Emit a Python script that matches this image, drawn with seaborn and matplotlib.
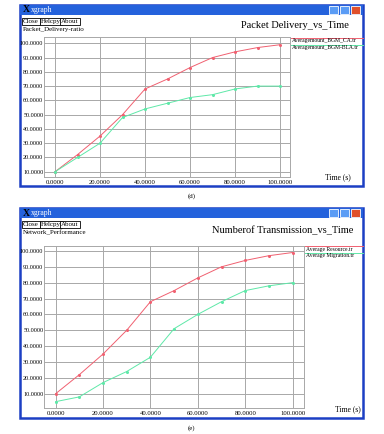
import matplotlib
matplotlib.use("Agg")
import matplotlib.pyplot as plt
import seaborn as sns
import pandas as pd
from matplotlib.patches import Rectangle
from matplotlib.lines import Line2D
from matplotlib.ticker import FormatStrFormatter

W, H = 384, 434

time_s = [0, 10, 20, 30, 40, 50, 60, 70, 80, 90, 100]
xticks = [0, 20, 40, 60, 80, 100]
yticks = [10, 20, 30, 40, 50, 60, 70, 80, 90, 100]

# (d) packet delivery
delivery_ca = [10, 22, 35, 50, 68, 75, 83, 90, 94, 97, 99]
delivery_bla = [10, 20, 30, 48, 54, 58, 62, 64, 68, 70, 70]
names_d = ["Averagemount_BGM_CA.tr", "Averagemount_BGM-BLA.tr"]

# (e) number of transmissions
resource = [10, 22, 35, 50, 68, 75, 83, 90, 94, 97, 99]
migration = [5, 8, 17, 24, 33, 51, 60, 68, 75, 78, 80]
names_e = ["Average Resource.tr", "Average Migration.tr"]

RED = "#f06070"
GREEN = "#5ee8a8"
SERIF = "Liberation Serif"


def fx(x):
    return x / W


def fy(y):
    return 1 - y / H


def long_df(a, b, names):
    return pd.DataFrame({
        "time": time_s * 2,
        "value": a + b,
        "series": [names[0]] * len(a) + [names[1]] * len(b),
    })


def window(fig, top, bottom, title_y, title, sub):
    left, right = 20, 363
    # window body
    fig.patches.append(Rectangle((fx(left), fy(bottom)), fx(right - left),
                                 (bottom - top) / H, transform=fig.transFigure,
                                 facecolor="white", edgecolor="#1c3fc4",
                                 linewidth=1.8, zorder=-2))
    # title bar
    fig.patches.append(Rectangle((fx(left), fy(top + 10)), fx(right - left),
                                 10 / H, transform=fig.transFigure,
                                 facecolor="#2462dc", edgecolor="none", zorder=-1))
    fig.text(fx(left + 3), fy(top + 5), "X", color="black", fontsize=7,
             family=SERIF, weight="bold", va="center", zorder=2)
    fig.text(fx(left + 11), fy(top + 5), "xgraph", color="white", fontsize=5.5,
             family=SERIF, va="center", zorder=2)
    for i, c in enumerate(["#5a9cf5", "#5a9cf5", "#e0502c"]):
        fig.patches.append(Rectangle((fx(329 + i * 11), fy(top + 9)), fx(9),
                                     8 / H, transform=fig.transFigure,
                                     facecolor=c, edgecolor="white",
                                     linewidth=0.6, zorder=2))
    # buttons
    bx = left + 2
    for lab, w in [("Close", 17), ("Helcpy", 19), ("About", 17)]:
        fig.text(fx(bx + 1), fy(top + 16.5), lab, fontsize=5, family=SERIF,
                 va="center", ha="left", zorder=3,
                 bbox=dict(boxstyle="square,pad=0.15", facecolor="white",
                           edgecolor="black", linewidth=0.6))
        bx += w + 1
    fig.text(fx(left + 3), fy(top + 25), sub, fontsize=5, family=SERIF,
             va="center", zorder=3)
    fig.text(fx(title[1]), fy(title_y), title[0], fontsize=7.5, family=SERIF,
             ha="center", va="center", zorder=3)


def panel(fig, box, xlim, ylim, df, names, leg_x, leg_y, xlabel_pos):
    l, t, r, b = box
    ax = fig.add_axes([fx(l), fy(b), fx(r - l), (b - t) / H])
    ax.set_zorder(5)
    sns.lineplot(data=df, x="time", y="value", hue="series", hue_order=names,
                 palette=[RED, GREEN], marker="o", markersize=2.2,
                 markeredgewidth=0, linewidth=0.7, legend=False, ax=ax,
                 zorder=3)
    ax.set_xlim(*xlim)
    ax.set_ylim(*ylim)
    ax.set_xticks(xticks)
    ax.set_yticks(yticks)
    ax.xaxis.set_major_formatter(FormatStrFormatter("%.4f"))
    ax.yaxis.set_major_formatter(FormatStrFormatter("%.4f"))
    ax.grid(True, color="#a8a8a8", linewidth=0.7)
    ax.set_axisbelow(True)
    ax.tick_params(axis="x", length=0, pad=2, labelsize=4.8)
    ax.tick_params(axis="y", length=0, pad=0.5, labelsize=4.4)
    for lab in ax.get_xticklabels() + ax.get_yticklabels():
        lab.set_family(SERIF)
    for s in ax.spines.values():
        s.set_color("#a8a8a8")
        s.set_linewidth(0.7)
    ax.set_xlabel("")
    ax.set_ylabel("")
    # xgraph style legend: line above each name
    for i, (name, col) in enumerate(zip(names, [RED, GREEN])):
        yl = leg_y + i * 7
        fig.add_artist(Line2D([fx(leg_x), fx(363)], [fy(yl), fy(yl)],
                              color=col, linewidth=0.7))
        fig.text(fx(leg_x + 1), fy(yl + 3), name, fontsize=4.1, family=SERIF,
                 va="center")
    fig.text(fx(xlabel_pos[0]), fy(xlabel_pos[1]), "Time (s)", fontsize=5.5,
             family=SERIF, ha="center", va="center")
    return ax


fig = plt.figure(figsize=(W / 100, H / 100), dpi=100)

window(fig, 5, 186, 25, ("Packet Delivery_vs_Time", 295),
       "Packet_Delivery-ratio")
panel(fig, (44, 37, 290, 177), (-4.9, 104.4), (6.3, 104.4),
      long_df(delivery_ca, delivery_bla, names_d), names_d,
      291, 37.5, (338, 177))
fig.text(0.5, fy(196), "(d)", fontsize=5, family=SERIF, ha="center",
         va="center")

window(fig, 208, 418, 231, ("Numberof Transmission_vs_Time", 283),
       "Network_Performance")
panel(fig, (44, 246, 304, 408), (-4.9, 104.8), (1.0, 103.1),
      long_df(resource, migration, names_e), names_e,
      305, 246, (348, 409))
fig.text(0.5, fy(428), "(e)", fontsize=5, family=SERIF, ha="center",
         va="center")

fig.savefig("out.png", dpi=100)
